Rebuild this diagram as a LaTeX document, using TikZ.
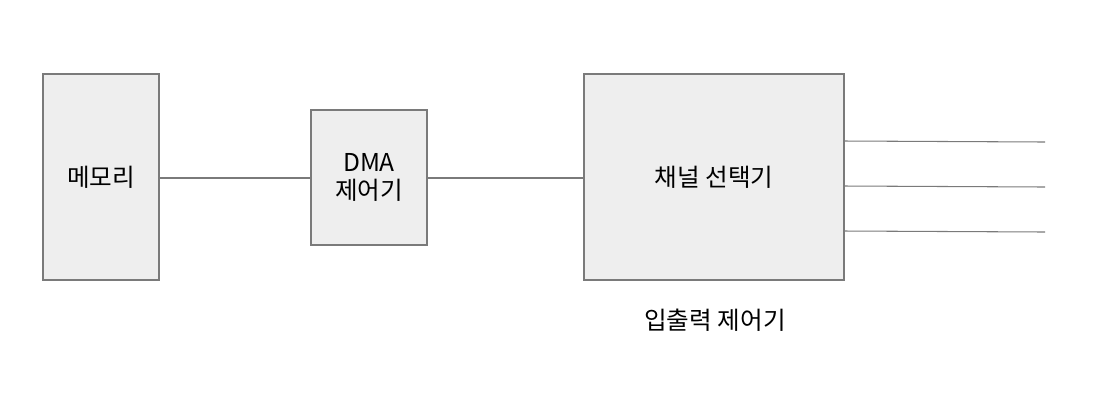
\documentclass[tikz,border=0pt]{standalone}
\usepackage{fontspec}
\setmainfont{Noto Sans CJK KR}
\definecolor{boxfill}{HTML}{EEEEEE}
\definecolor{boxline}{HTML}{7A7A7A}

\tikzset{
	unit/.style={draw=boxline, fill=boxfill, line width=0.6pt, inner sep=0pt,
		align=center, font=\fontsize{14}{15.5}\selectfont},
	wire/.style={draw=boxline, line width=0.6pt}
}

\begin{document}
\begin{tikzpicture}[x=0.02cm, y=-0.02cm]
	\useasboundingbox (0,0) rectangle (1101,414);
	\node[unit, minimum width=116*0.02cm, minimum height=206*0.02cm] (mem) at (101,177) {메모리};
	\node[unit, minimum width=116*0.02cm, minimum height=135*0.02cm] (dma) at (369,177.5) {DMA\\제어기};
	\node[unit, minimum width=260*0.02cm, minimum height=206*0.02cm] (sel) at (714,177) {채널 선택기};
	\node[font=\fontsize{14}{15.5}\selectfont] (ioc) at (715,320) {입출력 제어기};
	\draw[wire] (mem.east |- 0,178) -- (dma.west |- 0,178);
	\draw[wire] (dma.east |- 0,178) -- (sel.west |- 0,178);
	\foreach \y/\n in {141/1,186/2,231/3} {
		\coordinate (out\n) at (1045,\y+1);
		\draw[wire] (sel.east |- 0,\y) -- (out\n);
	}
\end{tikzpicture}
\end{document}
